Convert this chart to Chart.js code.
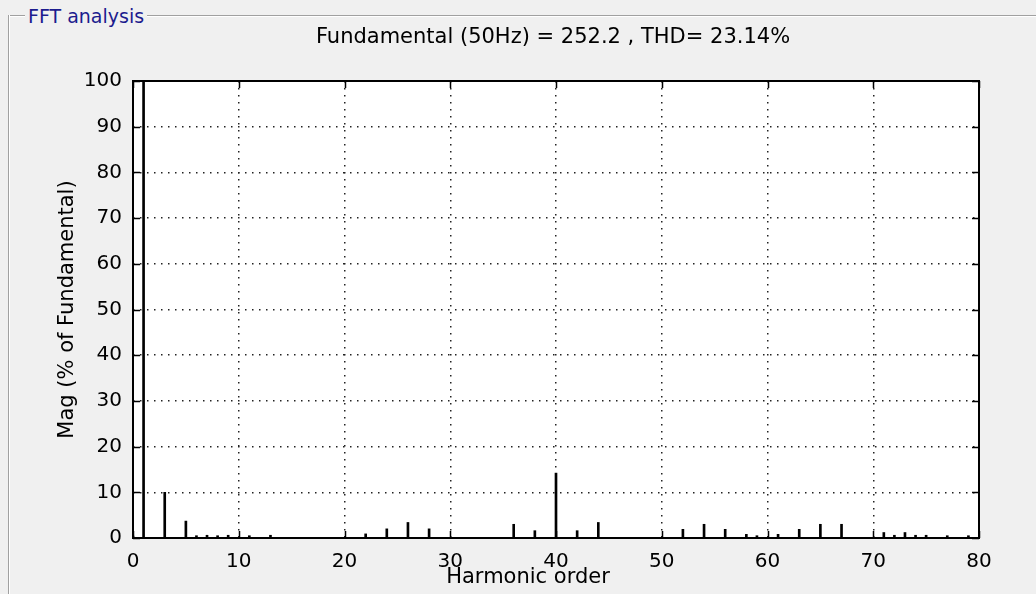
<!DOCTYPE html>
<html>
<head>
<meta charset="utf-8">
<title>FFT analysis</title>
<script src="https://cdn.jsdelivr.net/npm/chart.js@4/dist/chart.umd.min.js"></script>
<style>
  html, body { margin: 0; padding: 0; background: #f0f0f0; }
  #wrap { position: relative; width: 1036px; height: 594px; overflow: hidden; background: #f0f0f0; }
  .gb-top { position: absolute; left: 8px; top: 15px; width: 1040px; height: 0;
            border-top: 1px solid #a0a0a0; border-bottom: 1px solid #ffffff; }
  .gb-left { position: absolute; left: 8px; top: 15px; height: 600px; width: 0;
             border-left: 1px solid #a0a0a0; border-right: 1px solid #ffffff; }
  .gb-title { position: absolute; left: 25px; top: 5px; padding: 0 3px; background: #f0f0f0;
              font: 19px "DejaVu Sans", sans-serif; color: #1c1c8e; line-height: 22px; }
  canvas { position: absolute; left: 0; top: 0; }
</style>
</head>
<body>
<div id="wrap">
  <div class="gb-top"></div>
  <div class="gb-left"></div>
  <div class="gb-title">FFT analysis</div>
  <canvas id="fft" width="1036" height="594"></canvas>
</div>
<script>
// Harmonic spectrum, magnitude in % of the 50 Hz fundamental
const harmonics  = [0, 1, 3, 5, 6, 7, 8, 9, 11, 13, 22, 24, 26, 28, 36, 38, 40, 42, 44,
                    52, 54, 56, 58, 59, 61, 63, 65, 67, 71, 72, 73, 74, 75, 77, 79];
const magnitudes = [0.4, 100, 10.0, 3.7, 0.5, 0.6, 0.5, 0.6, 0.5, 0.6, 0.9, 2.0, 3.4, 2.0, 3.0, 1.6, 14.2, 1.6, 3.4,
                    1.9, 3.0, 1.9, 0.8, 0.5, 0.8, 1.9, 3.0, 3.0, 1.2, 0.6, 1.2, 0.6, 0.6, 0.5, 0.5];

const xTickValues = [0, 10, 20, 30, 40, 50, 60, 70, 80];
const yTickValues = [0, 10, 20, 30, 40, 50, 60, 70, 80, 90, 100];

const plotTitle  = 'Fundamental (50Hz) = 252.2 , THD= 23.14%';
const xAxisTitle = 'Harmonic order';
const yAxisTitle = 'Mag (% of Fundamental)';

const FONT = '"DejaVu Sans", sans-serif';

// White plot box, black frame with inward ticks, and the title texts
const axesBox = {
  id: 'axesBox',
  beforeDraw(chart) {
    const { ctx, chartArea: a } = chart;
    ctx.save();
    ctx.fillStyle = '#ffffff';
    ctx.fillRect(a.left, a.top, a.right - a.left, a.bottom - a.top);
    ctx.restore();
  },
  afterDraw(chart) {
    const { ctx, chartArea: a, scales } = chart;
    const tickLen = 7;
    ctx.save();
    ctx.strokeStyle = '#000000';
    ctx.lineWidth = 1.5;
    ctx.beginPath();
    scales.y.ticks.forEach(t => {
      const y = Math.round(scales.y.getPixelForValue(t.value)) + 0.5;
      ctx.moveTo(a.left, y);  ctx.lineTo(a.left + tickLen, y);
      ctx.moveTo(a.right, y); ctx.lineTo(a.right - tickLen, y);
    });
    scales.x.ticks.forEach(t => {
      const x = Math.round(scales.x.getPixelForValue(t.value)) + 0.5;
      ctx.moveTo(x, a.bottom); ctx.lineTo(x, a.bottom - tickLen);
      ctx.moveTo(x, a.top);    ctx.lineTo(x, a.top + tickLen);
    });
    ctx.stroke();
    ctx.lineWidth = 2;
    ctx.strokeRect(a.left, a.top, a.right - a.left, a.bottom - a.top);

    ctx.fillStyle = '#000000';
    ctx.font = '21px ' + FONT;
    ctx.textAlign = 'center';
    ctx.textBaseline = 'middle';
    const cx = (a.left + a.right) / 2;
    ctx.fillText(plotTitle, cx - 3, a.top - 43);
    ctx.fillText(xAxisTitle, cx - 28, a.bottom + 40);
    ctx.restore();
  }
};

new Chart(document.getElementById('fft'), {
  type: 'bar',
  data: {
    datasets: [{
      data: harmonics.map((h, i) => ({ x: h, y: magnitudes[i] })),
      backgroundColor: '#000000',
      borderWidth: 0,
      barThickness: 2,
      grouped: false
    }]
  },
  options: {
    responsive: false,
    animation: false,
    devicePixelRatio: 1,
    layout: { padding: { left: 0, top: 81, right: 57, bottom: 0 } },
    plugins: { legend: { display: false }, tooltip: { enabled: false }, title: { display: false } },
    scales: {
      x: {
        type: 'linear',
        min: 0, max: 80,
        offset: false,
        afterFit: s => { s.height = 56; },
        afterBuildTicks: s => { s.ticks = xTickValues.map(v => ({ value: v })); },
        ticks: { autoSkip: false, maxRotation: 0, padding: 12, color: '#000000', font: { family: FONT, size: 20 } },
        grid: { color: '#222222', lineWidth: 1.5, drawTicks: false, offset: false },
        border: { display: false, dash: [1.5, 5.5] }
      },
      y: {
        min: 0, max: 100,
        afterFit: s => { s.width = 133; },
        afterBuildTicks: s => { s.ticks = yTickValues.map(v => ({ value: v })); },
        ticks: { padding: 11, color: '#000000', font: { family: FONT, size: 20 } },
        grid: { color: '#222222', lineWidth: 1.5, drawTicks: false },
        border: { display: false, dash: [1.5, 5.5] },
        title: {
          display: true, text: yAxisTitle, color: '#000000',
          font: { family: FONT, size: 21 },
          padding: { top: 55, bottom: 0 }
        }
      }
    }
  },
  plugins: [axesBox]
});
</script>
</body>
</html>
